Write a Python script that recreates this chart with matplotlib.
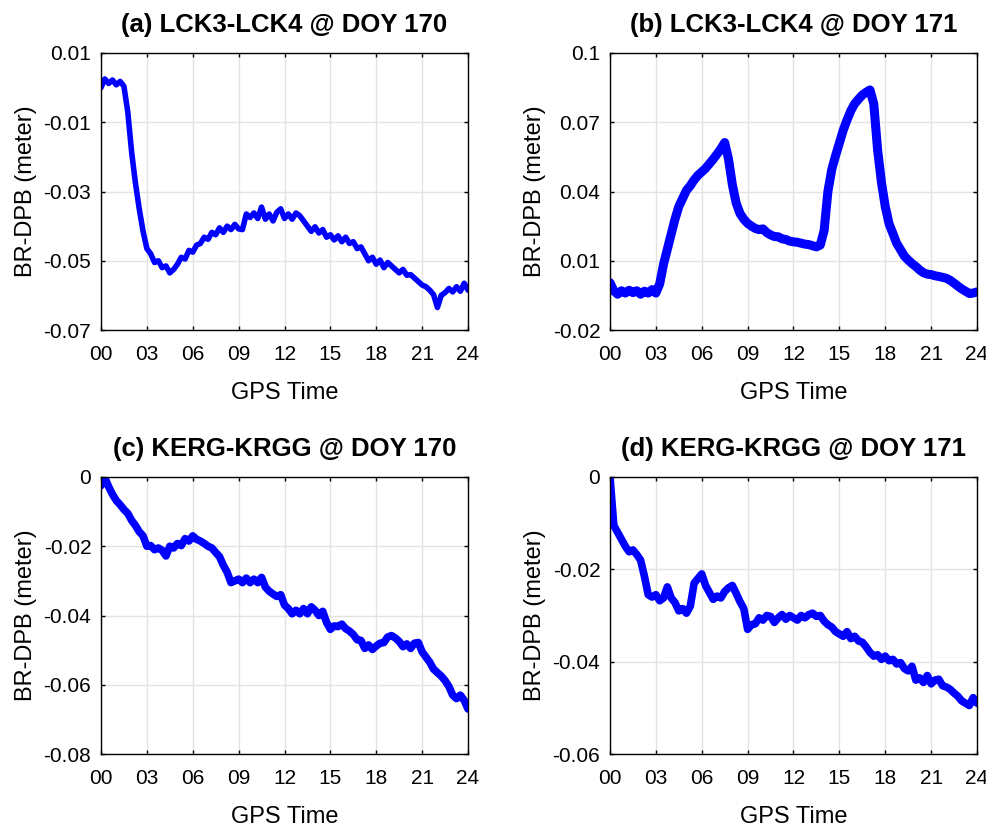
import numpy as np
import matplotlib
matplotlib.use("Agg")
import matplotlib.pyplot as plt

plt.rcParams['font.family'] = ['Liberation Sans', 'DejaVu Sans']

# GPS time grid (hours), sampled every 15 minutes
hours = [i * 0.25 for i in range(97)]

# (a) LCK3-LCK4 @ DOY 170
lck_170 = [
    0.0000, 0.0025, 0.0012, 0.0022, 0.0008, 0.0018, 0.0004, -0.0070,
    -0.0185, -0.0275, -0.0350, -0.0415, -0.0465, -0.0480, -0.0505, -0.0500,
    -0.0520, -0.0515, -0.0535, -0.0525, -0.0510, -0.0490, -0.0495, -0.0470,
    -0.0475, -0.0455, -0.0450, -0.0432, -0.0438, -0.0418, -0.0425, -0.0405,
    -0.0418, -0.0400, -0.0410, -0.0395, -0.0408, -0.0410, -0.0365, -0.0375,
    -0.0362, -0.0378, -0.0345, -0.0380, -0.0365, -0.0385, -0.0360, -0.0350,
    -0.0378, -0.0365, -0.0380, -0.0362, -0.0370, -0.0385, -0.0400, -0.0415,
    -0.0402, -0.0420, -0.0410, -0.0432, -0.0425, -0.0440, -0.0428, -0.0445,
    -0.0432, -0.0450, -0.0445, -0.0465, -0.0460, -0.0480, -0.0500, -0.0490,
    -0.0510, -0.0498, -0.0520, -0.0505, -0.0515, -0.0525, -0.0535, -0.0525,
    -0.0542, -0.0540, -0.0550, -0.0560, -0.0570, -0.0575, -0.0585, -0.0598,
    -0.0635, -0.0600, -0.0592, -0.0580, -0.0590, -0.0575, -0.0588, -0.0565,
    -0.0585,
]

# (b) LCK3-LCK4 @ DOY 171
lck_171 = [
    0.0005, -0.0030, -0.0045, -0.0030, -0.0040, -0.0028, -0.0038, -0.0030,
    -0.0045, -0.0032, -0.0040, -0.0025, -0.0040, 0.0000, 0.0085, 0.0150,
    0.0215, 0.0280, 0.0335, 0.0370, 0.0405, 0.0425, 0.0450, 0.0470,
    0.0485, 0.0500, 0.0520, 0.0540, 0.0562, 0.0585, 0.0612, 0.0540,
    0.0430, 0.0350, 0.0305, 0.0280, 0.0262, 0.0250, 0.0240, 0.0235,
    0.0238, 0.0222, 0.0212, 0.0205, 0.0204, 0.0195, 0.0192, 0.0185,
    0.0182, 0.0180, 0.0176, 0.0172, 0.0170, 0.0165, 0.0160, 0.0168,
    0.0230, 0.0400, 0.0495, 0.0555, 0.0610, 0.0665, 0.0710, 0.0750,
    0.0780, 0.0800, 0.0818, 0.0830, 0.0840, 0.0780, 0.0580, 0.0440,
    0.0335, 0.0260, 0.0218, 0.0175, 0.0148, 0.0120, 0.0103, 0.0088,
    0.0075, 0.0060, 0.0048, 0.0042, 0.0040, 0.0035, 0.0032, 0.0028,
    0.0024, 0.0015, 0.0003, -0.0010, -0.0022, -0.0032, -0.0042, -0.0040,
    -0.0035,
]

# (c) KERG-KRGG @ DOY 170
kerg_170 = [
    -0.0025, -0.0002, -0.0028, -0.0050, -0.0068, -0.0080, -0.0094, -0.0105,
    -0.0125, -0.0140, -0.0158, -0.0170, -0.0200, -0.0198, -0.0210, -0.0205,
    -0.0212, -0.0228, -0.0200, -0.0205, -0.0192, -0.0198, -0.0178, -0.0185,
    -0.0170, -0.0180, -0.0185, -0.0192, -0.0200, -0.0205, -0.0218, -0.0230,
    -0.0255, -0.0275, -0.0305, -0.0300, -0.0295, -0.0305, -0.0292, -0.0305,
    -0.0295, -0.0305, -0.0290, -0.0318, -0.0330, -0.0338, -0.0345, -0.0340,
    -0.0370, -0.0380, -0.0395, -0.0385, -0.0395, -0.0380, -0.0395, -0.0375,
    -0.0385, -0.0400, -0.0388, -0.0420, -0.0440, -0.0430, -0.0432, -0.0425,
    -0.0438, -0.0445, -0.0455, -0.0470, -0.0472, -0.0495, -0.0485, -0.0498,
    -0.0488, -0.0480, -0.0478, -0.0462, -0.0458, -0.0465, -0.0475, -0.0490,
    -0.0482, -0.0495, -0.0480, -0.0478, -0.0505, -0.0520, -0.0535, -0.0555,
    -0.0565, -0.0575, -0.0588, -0.0605, -0.0630, -0.0640, -0.0630, -0.0645,
    -0.0670,
]

# (d) KERG-KRGG @ DOY 171
kerg_171 = [
    0.0000, -0.0105, -0.0120, -0.0135, -0.0150, -0.0162, -0.0158, -0.0168,
    -0.0180, -0.0215, -0.0255, -0.0260, -0.0255, -0.0268, -0.0262, -0.0238,
    -0.0262, -0.0272, -0.0290, -0.0285, -0.0295, -0.0280, -0.0230, -0.0220,
    -0.0210, -0.0235, -0.0250, -0.0265, -0.0258, -0.0262, -0.0248, -0.0240,
    -0.0235, -0.0252, -0.0270, -0.0285, -0.0330, -0.0320, -0.0318, -0.0305,
    -0.0310, -0.0300, -0.0302, -0.0315, -0.0305, -0.0298, -0.0308, -0.0300,
    -0.0305, -0.0310, -0.0300, -0.0305, -0.0298, -0.0295, -0.0302, -0.0300,
    -0.0312, -0.0320, -0.0325, -0.0335, -0.0340, -0.0345, -0.0335, -0.0350,
    -0.0345, -0.0355, -0.0358, -0.0368, -0.0380, -0.0388, -0.0385, -0.0395,
    -0.0388, -0.0398, -0.0395, -0.0405, -0.0402, -0.0415, -0.0420, -0.0410,
    -0.0440, -0.0435, -0.0445, -0.0430, -0.0448, -0.0440, -0.0438, -0.0452,
    -0.0455, -0.0460, -0.0468, -0.0475, -0.0485, -0.0490, -0.0495, -0.0478,
    -0.0490,
]

titles = ["(a) LCK3-LCK4 @ DOY 170", "(b) LCK3-LCK4 @ DOY 171",
          "(c) KERG-KRGG @ DOY 170", "(d) KERG-KRGG @ DOY 171"]
series = [lck_170, lck_171, kerg_170, kerg_171]
yticks = [[0.01, -0.01, -0.03, -0.05, -0.07],
          [-0.02, 0.01, 0.04, 0.07, 0.1],
          [0, -0.02, -0.04, -0.06, -0.08],
          [0, -0.02, -0.04, -0.06]]
ytick_labels = [["0.01", "-0.01", "-0.03", "-0.05", "-0.07"],
                ["-0.02", "0.01", "0.04", "0.07", "0.1"],
                ["0", "-0.02", "-0.04", "-0.06", "-0.08"],
                ["0", "-0.02", "-0.04", "-0.06"]]
ylims = [(-0.07, 0.01), (-0.02, 0.1), (-0.08, 0.0), (-0.06, 0.0)]
xticks = [0, 3, 6, 9, 12, 15, 18, 21, 24]
xtick_labels = ["00", "03", "06", "09", "12", "15", "18", "21", "24"]

W, H = 987, 831
fig = plt.figure(figsize=(W / 100, H / 100), dpi=100)

boxes = [(101, 53), (610, 53), (101, 477), (610, 477)]
aw, ah = 367, 277
lws = [4.0, 6.5, 5.5, 5.5]

for i in range(4):
    lx, ty = boxes[i]
    ax = fig.add_axes([lx / W, 1 - (ty + ah) / H, aw / W, ah / H])
    ax.plot(hours, series[i], color='#0000ff', lw=lws[i],
            solid_joinstyle='round', solid_capstyle='round')
    ax.set_xlim(0, 24)
    ax.set_ylim(*ylims[i])
    ax.set_xticks(xticks)
    ax.set_xticklabels(xtick_labels)
    ax.set_yticks(yticks[i])
    ax.set_yticklabels(ytick_labels[i])
    ax.grid(True, color='#e3e3e3', lw=1.0)
    ax.set_axisbelow(True)
    ax.tick_params(direction='in', length=3, width=1, top=True, right=True,
                   labelsize=15, colors='black')
    ax.tick_params(axis='x', pad=11)
    ax.tick_params(axis='y', pad=7)
    for s in ax.spines.values():
        s.set_linewidth(1.0)
        s.set_color('black')
    ax.set_title(titles[i], fontsize=18.5, fontweight='bold', pad=15)
    ax.set_xlabel("GPS Time", fontsize=17)
    ax.set_ylabel("BR-DPB (meter)", fontsize=17)
    ax.xaxis.set_label_coords(0.5, -0.227)
    ax.xaxis.label.set_va('center')
    ax.yaxis.set_label_coords(-0.205, 0.5)
    ax.yaxis.label.set_va('center')

fig.savefig("out.png", dpi=100)
